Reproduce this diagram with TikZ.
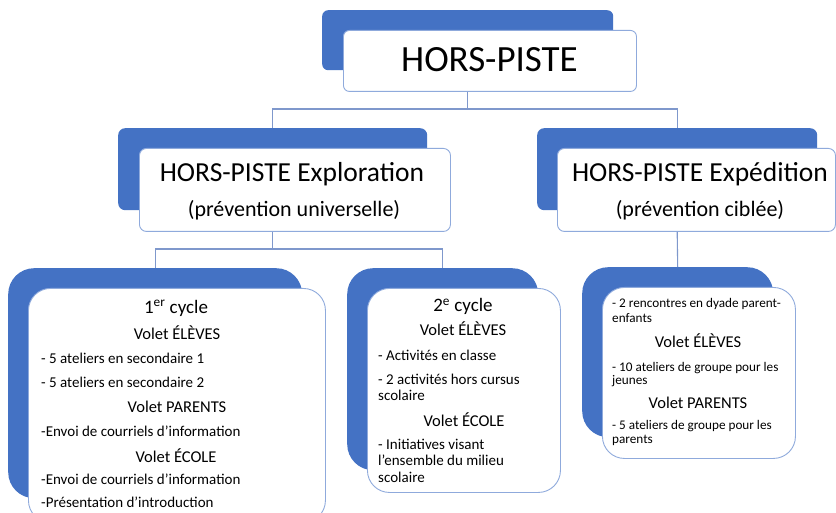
\documentclass[tikz,border=0pt]{standalone}
\usepackage{fontspec}
\setmainfont{Carlito}
\definecolor{bluefill}{HTML}{4472C4}
\definecolor{boxline}{HTML}{8FAADC}
\definecolor{connline}{HTML}{7F98CC}
\tikzset{
  bluebox/.style={fill=bluefill, draw=none, inner sep=0pt},
  whitebox/.style={fill=white, draw=boxline, line width=0.9pt, inner sep=0pt},
  conn/.style={draw=connline, line width=1.1pt},
  ctext/.style={anchor=base, inner sep=0pt, text=black},
  ltext/.style={anchor=base west, inner sep=0pt, text=black},
  head/.style={ctext, font=\fontsize{16.5pt}{18pt}\selectfont},
  body/.style={ltext, font=\fontsize{15pt}{17pt}\selectfont},
  smallbody/.style={ltext, font=\fontsize{13.2pt}{15pt}\selectfont},
}
\begin{document}
\begin{tikzpicture}[x=1pt, y=-1pt]
\clip (0,0) rectangle (836,513);
\fill[white] (0,0) rectangle (836,513);

% ---------- boxes ----------
% level 0
\path (322,10) node[bluebox, rounded corners=6pt, anchor=north west, minimum width=291pt, minimum height=60pt] (topb) {};
\path (343,30) node[whitebox, rounded corners=6pt, anchor=north west, minimum width=293pt, minimum height=61pt] (topw) {};
% level 1
\path (118,128) node[bluebox, rounded corners=7pt, anchor=north west, minimum width=309pt, minimum height=82pt] (explb) {};
\path (139,148) node[whitebox, rounded corners=7pt, anchor=north west, minimum width=311pt, minimum height=83pt] (explw) {};
\path (537,128) node[bluebox, rounded corners=7pt, anchor=north west, minimum width=280pt, minimum height=82pt] (expeb) {};
\path (557,148) node[whitebox, rounded corners=7pt, anchor=north west, minimum width=278pt, minimum height=83pt] (expew) {};
% level 2
\path (8,268) node[bluebox, rounded corners=26pt, anchor=north west, minimum width=294pt, minimum height=230pt] (c1b) {};
\path (28,288) node[whitebox, rounded corners=22pt, anchor=north west, minimum width=297pt, minimum height=234pt] (c1w) {};
\path (347,268) node[bluebox, rounded corners=26pt, anchor=north west, minimum width=191pt, minimum height=202pt] (c2b) {};
\path (367,288) node[whitebox, rounded corners=22pt, anchor=north west, minimum width=193pt, minimum height=204pt] (c2w) {};
\path (582,267) node[bluebox, rounded corners=26pt, anchor=north west, minimum width=191pt, minimum height=170pt] (c3b) {};
\path (602,287) node[whitebox, rounded corners=22pt, anchor=north west, minimum width=193pt, minimum height=171pt] (c3w) {};

% ---------- connectors ----------
\coordinate (j1) at (topb.south |- 0,109);
\draw[conn] (topb.south |- topw.south) -- (j1) -| (explb.north);
\draw[conn] (j1) -| (expeb.north);
\coordinate (j2) at (explb.south |- 0,249);
\draw[conn] (explb.south |- explw.south) -- (j2) -| (c1b.north);
\draw[conn] (j2) -| (c2b.north);
\draw[conn] (expeb.south |- expew.south) -- (c3b.north);

% ---------- texts ----------
\node[ctext, font=\fontsize{37pt}{40pt}\selectfont] (t0) at (489.5,72) {HORS-PISTE};

\node[ctext, font=\fontsize{27.5pt}{30pt}\selectfont] (e1) at (292,182) {HORS-PISTE Exploration};
\node[ctext, font=\fontsize{22pt}{25pt}\selectfont] (e2) at (294,217) {(prévention universelle)};

\node[ctext, font=\fontsize{27.5pt}{30pt}\selectfont] (x1) at (700,182) {HORS-PISTE Expédition};
\node[ctext, font=\fontsize{22pt}{25pt}\selectfont] (x2) at (700,217) {(prévention ciblée)};

% 1er cycle
\node[ctext, font=\fontsize{19pt}{21pt}\selectfont] (a1) at (176,313) {1\textsuperscript{er} cycle};
\node[head] (a2) at (177,339) {Volet ÉLÈVES};
\node[body] (a3) at (41,363) {- 5 ateliers en secondaire 1};
\node[body] (a4) at (41,387) {- 5 ateliers en secondaire 2};
\node[head] (a5) at (177,412) {Volet PARENTS};
\node[body] (a6) at (41,436) {-Envoi de courriels d’information};
\node[head] (a7) at (176,462) {Volet ÉCOLE};
\node[body] (a8) at (41,484) {-Envoi de courriels d’information};
\node[body] (a9) at (41,507) {-Présentation d’introduction};

% 2e cycle
\node[ctext, font=\fontsize{19pt}{21pt}\selectfont] (b1) at (463,312) {2\textsuperscript{e} cycle};
\node[head] (b2) at (463,336) {Volet ÉLÈVES};
\node[body] (b3) at (378,360) {- Activités en classe};
\node[body] (b4) at (378,384) {- 2 activités hors cursus};
\node[body] (b5) at (378,400) {scolaire};
\node[head] (b6) at (464,426) {Volet ÉCOLE};
\node[body] (b7) at (378,449) {- Initiatives visant};
\node[body] (b8) at (378,465.5) {l’ensemble du milieu};
\node[body] (b9) at (378,482) {scolaire};

% Expedition child
\node[smallbody] (d1) at (612,308) {- 2 rencontres en dyade parent-};
\node[smallbody] (d2) at (612,323) {enfants};
\node[head] (d3) at (698,347) {Volet ÉLÈVES};
\node[smallbody] (d4) at (612,371) {- 10 ateliers de groupe pour les};
\node[smallbody] (d5) at (612,384.5) {jeunes};
\node[head] (d6) at (698,408) {Volet PARENTS};
\node[smallbody] (d7) at (612,429) {- 5 ateliers de groupe pour les};
\node[smallbody] (d8) at (612,443) {parents};
\end{tikzpicture}
\end{document}
